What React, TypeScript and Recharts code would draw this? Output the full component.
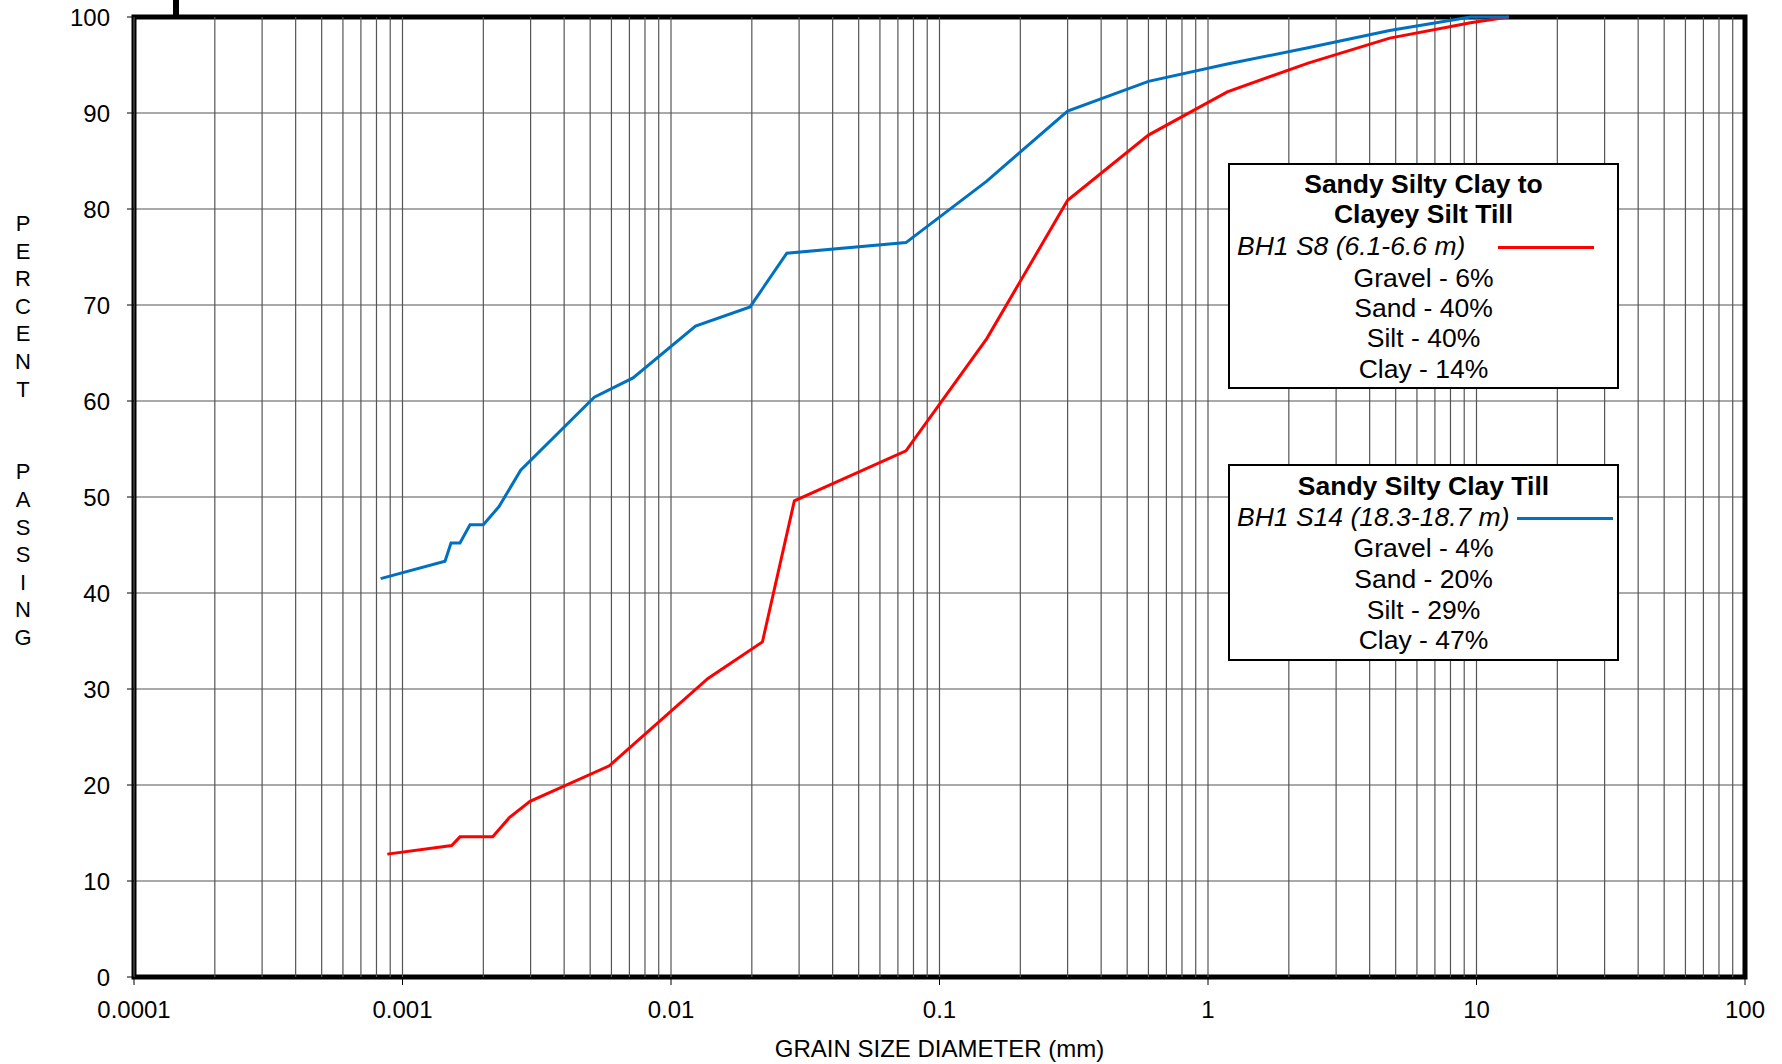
import React from "react";
import {
  CartesianGrid,
  Line,
  LineChart,
  ReferenceArea,
  ReferenceLine,
  XAxis,
  YAxis,
} from "recharts";

const FONT = '"Liberation Sans", Arial, sans-serif';

// grain size (mm) vs percent passing
const s8Sizes = [
  0.000878, 0.001525, 0.001637, 0.002168, 0.0025, 0.002985, 0.005892, 0.01373,
  0.0219, 0.0288, 0.075, 0.15, 0.3, 0.6, 1.18, 2.36, 4.75, 9.5, 13.2,
];
const s8Passing = [
  12.8, 13.7, 14.6, 14.6, 16.6, 18.3, 22.0, 31.1, 34.9, 49.6, 54.8, 66.5, 80.9,
  87.7, 92.2, 95.2, 97.8, 99.4, 100,
];

const s14Sizes = [
  0.000829, 0.00144, 0.001516, 0.001637, 0.001784, 0.002, 0.002288, 0.002755,
  0.00518, 0.00722, 0.01234, 0.0197, 0.027, 0.075, 0.15, 0.3, 0.6, 1.18, 2.36,
  4.75, 9.5, 13.2,
];
const s14Passing = [
  41.5, 43.3, 45.2, 45.2, 47.1, 47.1, 49.0, 52.8, 60.4, 62.4, 67.8, 69.8, 75.4,
  76.5, 82.9, 90.2, 93.3, 95.1, 96.8, 98.6, 100, 100,
];

const xTicks = [0.0001, 0.001, 0.01, 0.1, 1, 10, 100];
const yTicks = [0, 10, 20, 30, 40, 50, 60, 70, 80, 90, 100];
const multipliers = [1, 2, 3, 4, 5, 6, 7, 8, 9];

const s8Data = s8Sizes.map((d, i) => ({ d, p: s8Passing[i] }));
const s14Data = s14Sizes.map((d, i) => ({ d, p: s14Passing[i] }));

// vertical grid at every 1..9 x decade
const gridX: number[] = [];
xTicks.slice(0, -1).forEach((base) => {
  multipliers.forEach((m) => gridX.push(Number((base * m).toPrecision(3))));
});

const yLabel = ["P", "E", "R", "C", "E", "N", "T", "", "", "P", "A", "S", "S", "I", "N", "G"];

type Row = { text: string; y: number; bold?: boolean; italic?: boolean };

function LegendBox(props: {
  left: number;
  top: number;
  width: number;
  height: number;
  rows: Row[];
  color: string;
  lineX: number;
  lineY: number;
}) {
  const { left, top, width, height, rows, color, lineX, lineY } = props;
  return (
    <div
      style={{
        position: "absolute",
        left,
        top,
        width,
        height,
        border: "2px solid #000",
        boxSizing: "border-box",
        background: "#fff",
        fontFamily: FONT,
        fontSize: 26.5,
        color: "#000",
      }}
    >
      {rows.map((r, i) => (
        <div
          key={i}
          style={{
            position: "absolute",
            left: r.italic ? 7 : 0,
            width: r.italic ? undefined : width - 4,
            top: r.y - 16,
            lineHeight: "30px",
            textAlign: r.italic ? "left" : "center",
            fontWeight: r.bold ? "bold" : "normal",
            fontStyle: r.italic ? "italic" : "normal",
            whiteSpace: "nowrap",
          }}
        >
          {r.text}
        </div>
      ))}
      <div
        style={{
          position: "absolute",
          left: lineX,
          top: lineY - 1.5,
          width: 96,
          height: 3,
          background: color,
        }}
      />
    </div>
  );
}

export default function App() {
  return (
    <div
      style={{
        position: "fixed",
        left: 0,
        top: 0,
        width: 1782,
        height: 1064,
        background: "#fff",
        fontFamily: FONT,
      }}
    >
      <LineChart
        width={1782}
        height={1064}
        margin={{ top: 17, right: 37, left: 24, bottom: 27 }}
      >
        <CartesianGrid vertical={false} stroke="#555" strokeWidth={1.2} />
        {gridX.map((x) => (
          <ReferenceLine key={x} x={x} stroke="#555" strokeWidth={1.2} />
        ))}
        <XAxis
          dataKey="d"
          type="number"
          scale="log"
          domain={[0.0001, 100]}
          ticks={xTicks}
          allowDataOverflow
          axisLine={false}
          tickSize={8}
          tickMargin={16}
          height={60}
          tickLine={{ stroke: "#000" }}
          tick={{ fill: "#000", fontSize: 24, fontFamily: FONT }}
          tickFormatter={(v: number) => String(v)}
          label={{
            value: "GRAIN SIZE DIAMETER (mm)",
            position: "bottom",
            offset: 3,
            fill: "#000",
            fontSize: 24,
            fontFamily: FONT,
          }}
        />
        <YAxis
          type="number"
          domain={[0, 100]}
          ticks={yTicks}
          width={110}
          axisLine={false}
          tickSize={7}
          tickMargin={17}
          tickLine={{ stroke: "#000" }}
          tick={{ fill: "#000", fontSize: 24, fontFamily: FONT }}
        />
        <Line
          data={s8Data}
          dataKey="p"
          type="linear"
          stroke="#ff0000"
          strokeWidth={3}
          dot={false}
          isAnimationActive={false}
        />
        <Line
          data={s14Data}
          dataKey="p"
          type="linear"
          stroke="#0070c0"
          strokeWidth={3}
          dot={false}
          isAnimationActive={false}
        />
        <ReferenceArea
          x1={0.0001}
          x2={100}
          y1={0}
          y2={100}
          fill="none"
          stroke="#000"
          strokeWidth={5}
        />
      </LineChart>

      <div
        style={{
          position: "absolute",
          left: 173,
          top: 0,
          width: 6,
          height: 17,
          background: "#000",
        }}
      />

      <div
        style={{
          position: "absolute",
          left: 8,
          top: 210,
          width: 30,
          textAlign: "center",
          fontSize: 22,
          lineHeight: "27.6px",
          color: "#000",
        }}
      >
        {yLabel.map((c, i) => (
          <div key={i} style={{ height: 27.6 }}>
            {c}
          </div>
        ))}
      </div>

      <LegendBox
        left={1228}
        top={163}
        width={391}
        height={226}
        color="#ff0000"
        lineX={268}
        lineY={82}
        rows={[
          { text: "Sandy Silty Clay to", y: 20, bold: true },
          { text: "Clayey Silt Till", y: 50, bold: true },
          { text: "BH1 S8 (6.1-6.6 m)", y: 82, italic: true },
          { text: "Gravel - 6%", y: 114 },
          { text: "Sand - 40%", y: 144 },
          { text: "Silt - 40%", y: 174 },
          { text: "Clay - 14%", y: 205 },
        ]}
      />
      <LegendBox
        left={1228}
        top={464}
        width={391}
        height={197}
        color="#0070c0"
        lineX={287}
        lineY={52}
        rows={[
          { text: "Sandy Silty Clay Till", y: 21, bold: true },
          { text: "BH1 S14 (18.3-18.7 m)", y: 52, italic: true },
          { text: "Gravel - 4%", y: 83 },
          { text: "Sand - 20%", y: 114 },
          { text: "Silt - 29%", y: 145 },
          { text: "Clay - 47%", y: 175 },
        ]}
      />
    </div>
  );
}
